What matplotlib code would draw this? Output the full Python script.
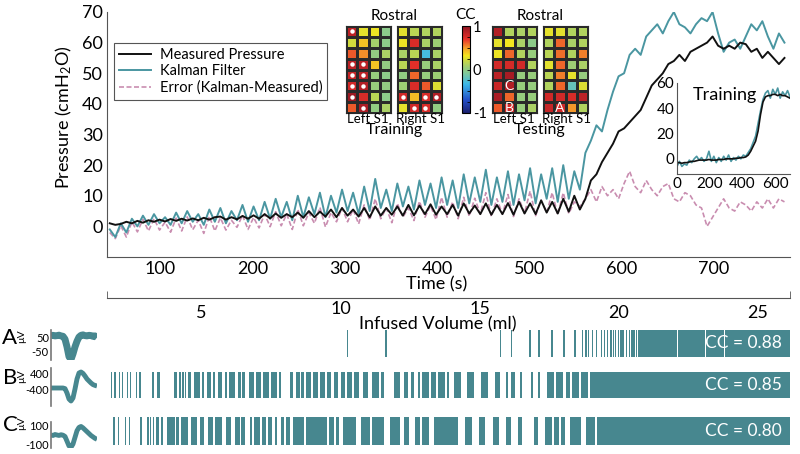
import numpy as np
import matplotlib.pyplot as plt
from matplotlib.colors import LinearSegmentedColormap
from matplotlib.cm import ScalarMappable

plt.rcParams['font.family'] = ['Lato', 'DejaVu Sans']
plt.rcParams['mathtext.fontset'] = 'custom'
plt.rcParams['mathtext.rm'] = 'Lato'
plt.rcParams['mathtext.it'] = 'Lato:italic'
plt.rcParams['axes.unicode_minus'] = False

# ---- main pressure traces (s, cmH2O) ----
t_main = np.arange(45, 781, 6)
measured = [
    1.0, 0.5, 0.8, 1.5, 1.0, 1.8, 1.2, 2.0, 1.5, 2.2,
    1.6, 2.4, 1.8, 2.5, 1.9, 2.6, 2.0, 2.8, 2.2, 3.0,
    3.2, 2.2, 3.0, 2.3, 3.4, 2.5, 3.6, 2.5, 4.0, 2.6,
    4.2, 2.8, 4.0, 3.0, 4.5, 2.8, 5.0, 3.0, 4.8, 3.2,
    5.5, 3.0, 6.0, 3.5, 5.5, 3.2, 6.0, 3.0, 6.5, 3.5,
    6.0, 3.8, 6.5, 3.5, 7.0, 3.6, 6.8, 4.0, 7.2, 3.8,
    6.5, 4.0, 7.0, 3.5, 7.5, 4.2, 6.8, 4.0, 7.5, 3.8,
    7.0, 4.0, 7.6, 3.8, 8.0, 4.2, 7.5, 4.0, 8.5, 4.5,
    8.0, 4.2, 9.0, 4.8, 10.0, 5.5, 9.0, 15.0, 17.0, 21.0,
    24.0, 27.0, 31.0, 32.0, 34.0, 36.0, 38.0, 42.0, 46.0, 48.0,
    50.0, 53.0, 54.0, 56.0, 54.0, 57.0, 58.0, 59.0, 60.0, 62.0,
    59.0, 58.0, 59.0, 58.0, 60.0, 59.5, 57.0, 58.0, 55.0, 57.0,
    55.0, 53.0, 55.0]
kalman = [
    -1.0, -3.5, 1.0, -2.0, 2.5, 0.0, 3.5, 0.5, 4.0, 1.0,
    3.0, 0.5, 4.5, 1.0, 5.0, 1.5, 4.0, 0.5, 5.5, 1.5,
    6.0, 1.0, 5.0, 2.0, 7.0, 1.5, 6.5, 2.0, 8.0, 2.5,
    9.0, 3.0, 8.0, 2.0, 10.0, 3.0, 9.5, 4.0, 11.0, 3.0,
    10.0, 4.5, 12.0, 5.0, 11.0, 4.0, 13.0, 5.0, 15.5, 6.0,
    12.0, 5.0, 14.0, 6.5, 13.0, 5.5, 15.0, 7.0, 14.0, 6.0,
    16.0, 7.0, 15.0, 6.0, 17.0, 7.5, 16.0, 8.0, 18.5, 7.0,
    16.0, 8.0, 18.0, 7.0, 17.0, 8.5, 19.0, 7.5, 17.0, 9.0,
    19.0, 8.0, 20.0, 9.0, 18.0, 12.0, 24.0, 28.0, 33.0, 31.0,
    38.0, 44.0, 49.0, 50.0, 56.0, 58.0, 56.0, 62.0, 64.0, 66.0,
    63.0, 67.0, 70.0, 66.0, 65.0, 63.0, 66.0, 68.0, 67.0, 70.0,
    63.0, 57.0, 60.0, 61.0, 58.0, 62.0, 66.0, 64.0, 67.0, 62.0,
    58.0, 63.0, 60.0]
error = [
    -2.0, -4.0, 0.2, -3.5, 1.5, -1.8, 2.3, -1.5, 2.5, -1.2,
    1.4, -1.9, 2.7, -1.5, 3.1, -1.1, 2.0, -2.3, 3.3, -1.5,
    2.8, -1.2, 2.0, -0.3, 3.6, -1.0, 2.9, -0.5, 4.0, -0.1,
    4.8, 0.2, 4.0, -1.0, 5.5, 0.2, 4.5, 1.0, 6.2, -0.2,
    4.5, 1.5, 6.0, 1.5, 5.5, 0.8, 7.0, 2.0, 9.0, 2.5,
    6.0, 1.2, 7.5, 3.0, 6.0, 1.9, 8.2, 3.0, 6.8, 2.2,
    9.5, 3.0, 8.0, 2.5, 9.5, 3.3, 9.2, 4.0, 11.0, 3.2,
    9.0, 4.0, 10.4, 3.2, 9.0, 4.3, 11.5, 3.5, 8.5, 4.5,
    11.0, 3.8, 11.0, 4.2, 8.0, 6.5, 9.0, 12.0, 8.0, 13.0,
    10.0, 12.0, 9.0, 14.0, 18.0, 13.0, 11.0, 15.0, 12.0, 10.0,
    13.0, 14.0, 9.0, 8.0, 11.0, 10.0, 7.0, 6.0, 0.0, 3.0,
    6.0, 9.0, 6.0, 5.0, 8.0, 7.0, 5.0, 8.0, 6.0, 9.0,
    6.0, 9.0, 8.0]
time_ticks = [100, 200, 300, 400, 500, 600, 700]
volume_ticks = [5, 10, 15, 20, 25]

# ---- training inset ----
t_inset = np.arange(0, 691, 15)
inset_measured = [
    -3, -3, -3.5, -3, -3, -2.5, -2, -2, -1.5, -1,
    -1, -1, -1, -0.5, -1, -1, -1, -0.5, -0.5, -0.5,
    0, 0, 0, 0, 0.5, 0.5, 1, 1, 1.5, 3,
    6, 10, 14, 22, 35, 45, 49, 50, 50, 51,
    51, 50, 51, 50, 50, 49, 48]
inset_kalman = [
    -6, -2, -6, -4, -5, -1, -3, 0, 2, -1,
    1, -2, 0, 6, -2, 2, -3, 1, -2, 2,
    -1, 3, -2, 1, -1, 2, 0, 3, 2, 5,
    8, 13, 18, 28, 38, 47, 52, 54, 48, 55,
    51, 56, 48, 53, 50, 54, 49]

# ---- CC maps (8 rows x 4 electrodes) ----
left_train = [
    [0.85, 0.28, 0.30, -0.03],
    [0.22, 0.40, 0.08, -0.02],
    [0.62, 0.52, 0.00, 0.10],
    [0.85, 0.85, 0.40, 0.00],
    [0.82, 0.85, 0.02, -0.02],
    [0.78, 0.88, 0.03, 0.00],
    [0.95, 0.75, 0.15, -0.02],
    [0.62, 0.90, 0.00, 0.10]]
right_train = [
    [0.27, 0.15, 0.12, 0.12],
    [0.30, 0.75, 0.10, 0.05],
    [0.10, 0.15, -0.30, 0.10],
    [0.15, 0.72, 0.03, 0.10],
    [0.00, 0.60, 0.02, 0.05],
    [0.05, 0.75, 0.62, 0.25],
    [0.78, 0.42, 0.75, 0.88],
    [0.28, 0.78, 0.75, 0.00]]
left_test = [
    [0.88, 0.12, 0.10, 0.12],
    [0.28, 0.32, 0.10, -0.02],
    [0.30, 0.60, 0.12, 0.03],
    [0.77, 0.77, 0.78, 0.12],
    [0.85, 0.92, 0.02, 0.03],
    [0.80, 0.88, 0.03, 0.02],
    [0.90, 0.60, 0.02, 0.03],
    [0.62, 0.78, 0.03, 0.10]]
right_test = [
    [0.28, 0.27, 0.12, 0.12],
    [0.12, 0.60, 0.10, 0.12],
    [0.15, 0.58, 0.12, 0.55],
    [0.27, 0.60, 0.05, 0.10],
    [0.15, 0.55, 0.28, 0.02],
    [0.12, 0.60, -0.18, 0.25],
    [0.78, 0.78, 0.75, 0.85],
    [0.82, 0.78, 0.50, 0.12]]
left_train_sig = [(0, 0), (3, 0), (3, 1), (4, 0), (4, 1), (5, 0), (5, 1), (6, 0), (7, 1)]
right_train_sig = [(6, 0), (6, 2), (6, 3), (7, 1), (7, 2)]
left_test_units = [(5, 1, 'C'), (7, 1, 'B')]
right_test_units = [(7, 1, 'A')]

# ---- units: spike trains (start s, width s), waveforms ----
spikes_a = [(302, 1.4), (344, 1.4), (468, 1.4), (480, 1.4), (500, 1.5), (510, 1.4),
            (524, 1.5), (537, 1.4), (549, 1.5), (557, 1.4), (561, 1.4), (564, 1.4),
            (568, 1.5), (572, 1.4), (578, 1.5), (581, 1.4), (584, 1.5), (588, 1.5),
            (591, 1.4), (593, 1.5), (596, 1.5), (599, 1.4), (601, 1.5), (605, 1.5),
            (608, 1.4), (611, 1.5), (613, 1.5), (616, 1.4), (618, 2), (620, 40),
            (661, 30), (692, 19.5), (712, 72)]
spikes_b = [(46, 1.4), (50, 1.4), (54.5, 1.4), (58.5, 1.4), (63.5, 1.5), (67, 1.5),
            (73, 1.4), (77, 1.5), (91, 2.5), (96, 4), (115, 2.5), (120, 2),
            (123.5, 2), (126.5, 1.5), (130, 3.5), (136.5, 6), (145, 2.5), (150, 5),
            (157, 2.5), (162, 5), (169.5, 2.5), (174.5, 6.5), (184.5, 2.5), (189, 2.5),
            (196.5, 5), (204, 5), (211.5, 6), (220, 6), (228.5, 2.5), (241, 2.5),
            (247, 4), (253, 2.5), (258, 5), (265.5, 5), (273, 5), (280.5, 5),
            (288, 5), (295.5, 5), (302.5, 5), (310, 5), (320, 5), (330, 7.5),
            (339.5, 2.5), (353.5, 6), (364, 5), (371.5, 3.5), (379, 2.5), (384, 7.5),
            (394, 5), (401, 7.5), (411, 2.5), (418.5, 7.5), (433, 7.5), (448, 7.5),
            (463, 5), (475, 2.5), (480, 5), (490, 2.5), (502, 2.5), (509.5, 2.5),
            (519.5, 7.5), (529.5, 7.5), (539.5, 5), (546.5, 7.5), (556.5, 7.5),
            (566.5, 217)]
spikes_c = [(48.8, 1.4), (53.7, 1.4), (61.1, 1.4), (66, 1.4), (78.3, 1.4), (85.7, 1.4),
            (88.2, 1.4), (92.1, 1.4), (95.6, 2.5), (100.5, 2.5), (106.9, 8.4),
            (116.8, 3.5), (122.7, 7.4), (132.6, 7.4), (142.4, 4.9), (151.3, 5.9),
            (159.7, 7.4), (171, 5.9), (180.9, 4.9), (187.8, 3.9), (196.7, 2.5),
            (201.6, 5.9), (210.5, 3.5), (216.4, 4.9), (223.8, 2.5), (231.2, 2.5),
            (236.1, 3.9), (243.5, 12.3), (258.3, 22.2), (282.9, 4.9), (290.3, 3.9),
            (297.7, 14.8), (317.4, 9.9), (329.8, 12.3), (349.5, 9.9), (364.3, 4.9),
            (376.6, 4.9), (384, 7.4), (396.3, 26.1), (430.8, 7.4), (445.6, 6.4),
            (460.4, 7.4), (475.2, 4.9), (487.5, 4.9), (504.8, 4.9), (517.1, 7.4),
            (527, 4.9), (534.4, 4.9), (544.2, 12.3), (561.5, 9.9), (573.8, 210)]
wave_a = [60, 62, 58, 60, 63, 58, 55, 35, -20, -90, -110, -70,
          -20, 20, 50, 62, 65, 60, 58, 62, 60, 55, 58, 45]
wave_b = [-350, -350, -350, -350, -350, -350, -350, -380, -600, -900, -1000, -850,
          -400, 100, 400, 450, 380, 250, 100, 0, -100, -180, -220, -250]
wave_c = [5, 0, 10, 5, 0, 8, 3, -10, -60, -110, -125, -90,
          -20, 50, 85, 95, 80, 60, 40, 20, 0, -15, -30, -40]
unit_cc = ['0.88', '0.85', '0.80']

teal = '#4a96a1'
unit_col = '#47878f'
pink = '#c98db0'
axis_col = '#555555'

cc_cmap = LinearSegmentedColormap.from_list('cc', [
    (0.0, '#1b1f6e'), (0.15, '#2350c8'), (0.33, '#3cb8e8'), (0.45, '#7cc8a0'),
    (0.52, '#9acd78'), (0.6, '#c8d845'), (0.66, '#f4e61e'), (0.75, '#f39a2a'),
    (0.85, '#e8312a'), (1.0, '#8e1422')])

W, H = 800, 454


def box(x0, y0, x1, y1):
    return [x0 / W, 1 - y1 / H, (x1 - x0) / W, (y1 - y0) / H]


fig = plt.figure(figsize=(8, 4.54), dpi=100)

# ─── main pressure panel ───
ax = fig.add_axes(box(107, 12, 790, 257))
ax.plot(t_main, error, color=pink, lw=1.2, dashes=(3, 1.5), label='Error (Kalman-Measured)')
ax.plot(t_main, kalman, color=teal, lw=1.4, label='Kalman Filter')
ax.plot(t_main, measured, color='#111111', lw=1.4, label='Measured Pressure')
h, l = ax.get_legend_handles_labels()
leg = ax.legend(h[::-1], l[::-1], loc='upper left', bbox_to_anchor=(0.01, 0.873),
                fontsize=10.5, fancybox=False, edgecolor=axis_col, framealpha=1,
                borderpad=0.35, labelspacing=0.15, handlelength=2.2, handletextpad=0.6,
                borderaxespad=0)
leg.get_frame().set_linewidth(0.8)
ax.set_xlim(42, 783)
ax.set_ylim(-10, 70)
ax.set_xticks(time_ticks)
ax.set_yticks(range(0, 71, 10))
ax.tick_params(length=0, labelsize=13, pad=3)
for s in ['top', 'right']:
    ax.spines[s].set_visible(False)
for s in ['left', 'bottom']:
    ax.spines[s].set_color(axis_col)
ax.set_xlabel('Time (s)', fontsize=13)
ax.xaxis.set_label_coords(0.482, -0.08)
ax.set_ylabel('Pressure (cmH$_2$O)', fontsize=13)
ax.yaxis.set_label_coords(-0.048, 0.57)

# ─── infused volume axis ───
axv = fig.add_axes(box(107, 290, 790, 298))
axv.patch.set_visible(False)
for s in ['top', 'left', 'right']:
    axv.spines[s].set_visible(False)
axv.spines['bottom'].set_color(axis_col)
axv.set_xlim(1.6, 26.15)
axv.set_yticks([])
axv.set_xticks([])
axv.set_xticks([1.6, 26.15], minor=True)
axv.tick_params(which='minor', direction='in', length=5, color=axis_col, labelbottom=False)
for v in volume_ticks:
    lift = 2.5 if v in (10, 15) else 0
    axv.annotate(str(v), xy=(v, 0), xycoords=('data', 'axes fraction'),
                 xytext=(0, -5 + lift), textcoords='offset points',
                 ha='center', va='top', fontsize=13)
axv.set_xlabel('Infused Volume (ml)', fontsize=13)
axv.xaxis.set_label_coords(0.484, -2.3)

# ─── training inset ───
axi = fig.add_axes(box(677, 83, 790, 174))
axi.patch.set_visible(False)
axi.plot(t_inset, inset_kalman, color=teal, lw=1.2)
axi.plot(t_inset, inset_measured, color='#111111', lw=1.2)
axi.set_xlim(0, 690)
axi.set_ylim(-12, 60)
axi.set_xticks([0, 200, 400, 600])
axi.set_yticks([0, 20, 40, 60])
axi.tick_params(length=0, labelsize=11, pad=2)
for s in ['top', 'right']:
    axi.spines[s].set_visible(False)
for s in ['left', 'bottom']:
    axi.spines[s].set_color(axis_col)
axi.text(0.42, 0.87, 'Training', transform=axi.transAxes, fontsize=13,
         ha='center', va='center')

# ─── CC maps ───
def cc_map(rect, vals, dots=(), letters=()):
    a = fig.add_axes(box(*rect))
    a.pcolormesh(np.array(vals), cmap=cc_cmap, vmin=-1, vmax=1,
                 edgecolors='#2a2a2a', linewidth=0.8)
    a.set_xlim(0, 4)
    a.set_ylim(8, 0)
    for r, c in dots:
        a.plot(c + 0.5, r + 0.5, 'o', ms=3.2, color='white', mec='none')
    for r, c, s in letters:
        a.text(c + 0.5, r + 0.55, s, color='white', ha='center', va='center', fontsize=10)
    a.set_xticks([])
    a.set_yticks([])
    for sp in a.spines.values():
        sp.set_color('#2a2a2a')
    return a


cc_map((346, 26, 391, 113), left_train, left_train_sig)
cc_map((397, 26, 442, 113), right_train, right_train_sig)
cc_map((492, 26, 537, 113), left_test, letters=left_test_units)
cc_map((543, 26, 588, 113), right_test, letters=right_test_units)

cax = fig.add_axes(box(462, 26, 470, 113))
cb = fig.colorbar(ScalarMappable(cmap=cc_cmap, norm=plt.Normalize(-1, 1)), cax=cax,
                  ticks=[-1, 0, 1])
cb.outline.set_linewidth(0.8)
cax.set_yticks(np.arange(-1, 1.01, 0.25), minor=True)
cax.tick_params(which='both', direction='in', length=2.5, labelsize=10.5, pad=2, width=0.6)

fig.text(394 / W, 1 - 16 / H, 'Rostral', fontsize=11, ha='center', va='center')
fig.text(540 / W, 1 - 16 / H, 'Rostral', fontsize=11, ha='center', va='center')
fig.text(466 / W, 1 - 15 / H, 'CC', fontsize=11, ha='center', va='center')
for x, s in [(368, 'Left S1'), (420, 'Right S1'), (514, 'Left S1'), (566, 'Right S1')]:
    fig.text(x / W, 1 - 119 / H, s, fontsize=9.5, ha='center', va='center')
fig.text(394 / W, 1 - 130 / H, 'Training', fontsize=11.5, ha='center', va='center')
fig.text(540 / W, 1 - 130 / H, 'Testing', fontsize=11.5, ha='center', va='center')

# ─── units ───
rows = [
    ('A', (330, 357), (330, 360), spikes_a, wave_a, (-114, 100), [50, -50], 338, 5),
    ('B', (372, 398), (368, 406), spikes_b, wave_b, (-1250, 650), [400, -400], 378, 3.5),
    ('C', (417, 445), (422, 448), spikes_c, wave_c, (-132, 142), [100, -100], 425, 3.5),
]
for i, (lab, (r0, r1), (w0, w1), spk, wav, ylim, yt, yc, lw) in enumerate(rows):
    ar = fig.add_axes(box(107, r0, 790, r1))
    ar.broken_barh(spk, (0, 1), facecolors=unit_col, edgecolor='none')
    ar.set_xlim(42, 783)
    ar.set_ylim(0, 1)
    ar.axis('off')
    ar.text(0.988, 0.5, 'CC = ' + unit_cc[i], transform=ar.transAxes, color='white',
            fontsize=12.5, ha='right', va='center')

    aw = fig.add_axes(box(51, w0, 97, w1))
    aw.patch.set_visible(False)
    aw.plot(np.arange(len(wav)), wav, color=unit_col, lw=lw, solid_capstyle='butt')
    aw.set_xlim(0, len(wav) - 1)
    aw.set_ylim(*ylim)
    aw.set_xticks([])
    aw.set_yticks(yt)
    aw.tick_params(length=0, labelsize=8, pad=1.5)
    for s in ['top', 'right', 'bottom']:
        aw.spines[s].set_visible(False)
    aw.spines['left'].set_color('#777777')
    aw.spines['left'].set_linewidth(1.2)
    fig.text(10 / W, 1 - yc / H, lab, fontsize=16, ha='center', va='center')
    fig.text(22 / W, 1 - (yc - 2) / H, '\u00b5V', fontsize=7.5, ha='center', va='center',
             rotation=90)

fig.savefig('out.png', dpi=100)
